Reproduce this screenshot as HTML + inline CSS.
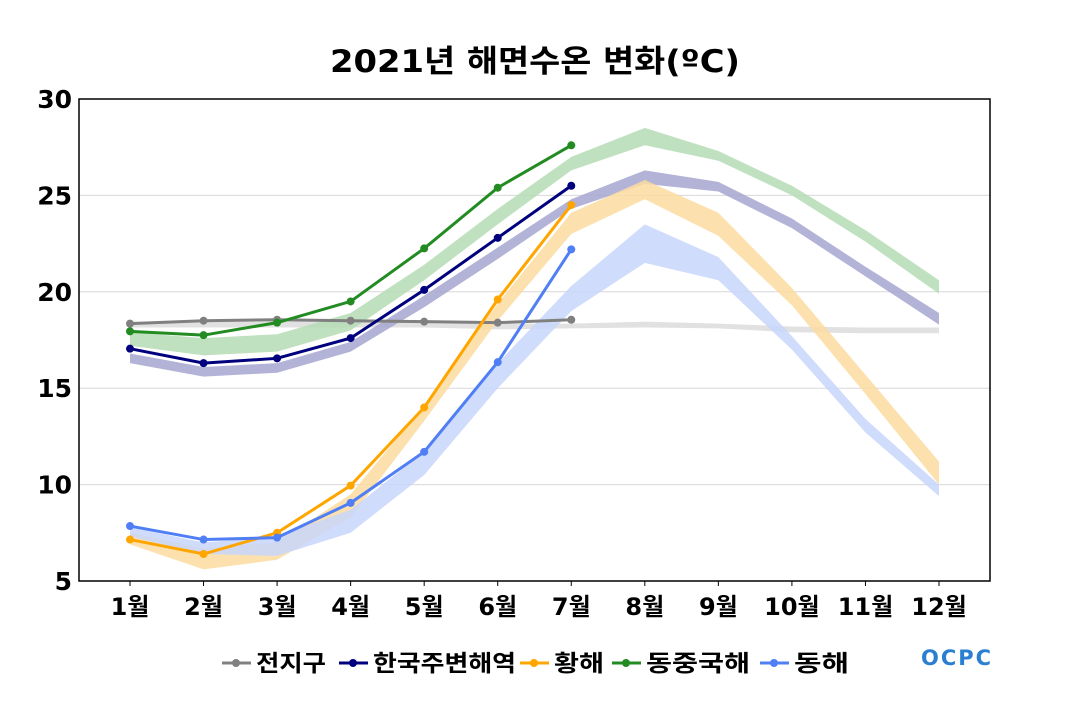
<!DOCTYPE html>
<html><head><meta charset="utf-8">
<style>
body{margin:0;background:#fff;width:1070px;height:700px;overflow:hidden;font-family:"DejaVu Sans","Noto Sans CJK KR",sans-serif}
svg text{font-family:"DejaVu Sans","Noto Sans CJK KR",sans-serif;font-weight:bold}
</style></head>
<body>
<svg id="chart" width="1070" height="700" xmlns="http://www.w3.org/2000/svg">
<text x="330" y="72" font-size="31" textLength="410" lengthAdjust="spacingAndGlyphs">2021년 해면수온 변화(ºC)</text>
<g id="grid"></g><g id="bands"></g><g id="lines"></g><g id="axes"></g><g id="legend"></g>
<text x="956" y="665" text-anchor="middle" font-size="21" fill="#2b7fd0" textLength="70">OCPC</text>
</svg>
<script>
const months=["1월","2월","3월","4월","5월","6월","7월","8월","9월","10월","11월","12월"];
const yTicks=[5,10,15,20,25,30];
const seriesNames=["전지구","한국주변해역","황해","동중국해","동해"];
const seriesColors=["#808080","#00007f","#ffa500","#228b22","#4f7ef5"];
const bandColors=["#dcdcdc","#a6a6d0","#fcdca0","#b5dcb5","#c8d6fc"];
const globalObs=[18.35,18.5,18.55,18.5,18.45,18.4,18.55];
const koreaObs=[17.05,16.3,16.55,17.6,20.1,22.8,25.5];
const yellowObs=[7.15,6.4,7.5,9.95,14.0,19.6,24.5];
const ecsObs=[17.95,17.75,18.4,19.5,22.25,25.4,27.6];
const eastObs=[7.85,7.15,7.25,9.05,11.7,16.35,22.2];
const globalLo=[18.15,18.15,18.15,18.15,18.15,18.05,18.1,18.15,18.1,17.9,17.85,17.85];
const globalHi=[18.45,18.45,18.45,18.45,18.45,18.35,18.35,18.45,18.35,18.2,18.15,18.15];
const koreaLo=[16.3,15.6,15.8,16.9,19.2,21.7,24.3,25.6,25.2,23.3,20.8,18.3];
const koreaHi=[16.8,16.1,16.3,17.4,19.8,22.3,24.8,26.3,25.7,23.8,21.3,18.9];
const yellowLo=[6.9,5.6,6.1,8.3,13.3,18.5,23.0,24.8,22.9,19.3,14.7,10.0];
const yellowHi=[7.5,6.7,7.0,9.5,14.1,19.4,24.1,25.8,24.1,20.2,15.7,11.2];
const ecsLo=[17.2,16.7,16.9,18.0,20.6,23.5,26.3,27.6,26.8,25.0,22.6,19.9];
const ecsHi=[17.9,17.6,17.8,18.9,21.4,24.3,27.0,28.5,27.3,25.5,23.2,20.6];
const eastLo=[7.3,6.4,6.3,7.5,10.5,15.0,19.0,21.5,20.6,17.0,12.7,9.4];
const eastHi=[7.8,7.0,7.3,8.7,11.7,16.3,20.3,23.5,21.8,17.7,13.4,10.0];
const obs=[globalObs,koreaObs,yellowObs,ecsObs,eastObs];
const los=[globalLo,koreaLo,yellowLo,ecsLo,eastLo];
const his=[globalHi,koreaHi,yellowHi,ecsHi,eastHi];
const bandNames=["global-band","korea-band","yellow-sea-band","ecs-band","east-sea-band"];
const lineNames=["global-line","korea-line","yellow-sea-line","ecs-line","east-sea-line"];
const NS="http://www.w3.org/2000/svg";
const L=79,R=990,T=99,B=581,ymin=5,ymax=30;
const x=i=>130+i*(939-130)/11;
const y=v=>B-(v-ymin)/(ymax-ymin)*(B-T);
function mk(tag,attrs,parent){const e=document.createElementNS(NS,tag);for(const k in attrs)e.setAttribute(k,attrs[k]);parent.appendChild(e);return e;}
const G=id=>document.getElementById(id);
yTicks.forEach(t=>{
  if(t>ymin&&t<ymax){const g=mk("line",{x1:L,x2:R,y1:y(t),y2:y(t),stroke:"#d8d8d8","stroke-width":1},G("grid"));
  
  }
  const tx=mk("text",{x:72,y:y(t)+9,"text-anchor":"end","font-size":25},G("axes"));tx.textContent=t;
  
  
});
months.forEach((m,i)=>{
  const tx=mk("text",{x:x(i),y:615,"text-anchor":"middle","font-size":24},G("axes"));tx.textContent=m;
  
  
  const tk=mk("line",{x1:x(i),x2:x(i),y1:B,y2:B+5,stroke:"#000"},G("axes"));
  
  
});
const fr=mk("rect",{x:L,y:T,width:R-L,height:B-T,fill:"none",stroke:"#000","stroke-width":1.5},G("axes"));


for(let s=0;s<5;s++){
  let pts=his[s].map((v,i)=>x(i)+","+y(v));
  pts=pts.concat(los[s].map((v,i)=>[i,v]).reverse().map(([i,v])=>x(i)+","+y(v)));
  const p=mk("polygon",{points:pts.join(" "),fill:bandColors[s],opacity:0.85},G("bands"));
  
  
}
for(let s=0;s<5;s++){
  const pl=mk("polyline",{points:obs[s].map((v,i)=>x(i)+","+y(v)).join(" "),fill:"none",stroke:seriesColors[s],"stroke-width":3},G("lines"));
  
  
  obs[s].forEach((v,i)=>{
    const c=mk("circle",{cx:x(i),cy:y(v),r:4,fill:seriesColors[s]},G("lines"));
    
    
  });
}
const lx=[222,339,520,612,760];
const lw=[70,143,50,104,55];
seriesNames.forEach((n,s)=>{
  const g=mk("g",{},G("legend"));
  
  
  mk("line",{x1:lx[s],x2:lx[s]+29,y1:663,y2:663,stroke:seriesColors[s],"stroke-width":3},g);
  mk("circle",{cx:lx[s]+14,cy:663,r:4,fill:seriesColors[s]},g);
  const t=mk("text",{x:lx[s]+34,y:671,"font-size":23,textLength:lw[s],lengthAdjust:"spacingAndGlyphs"},g);t.textContent=n;
});
</script>
</body></html>
